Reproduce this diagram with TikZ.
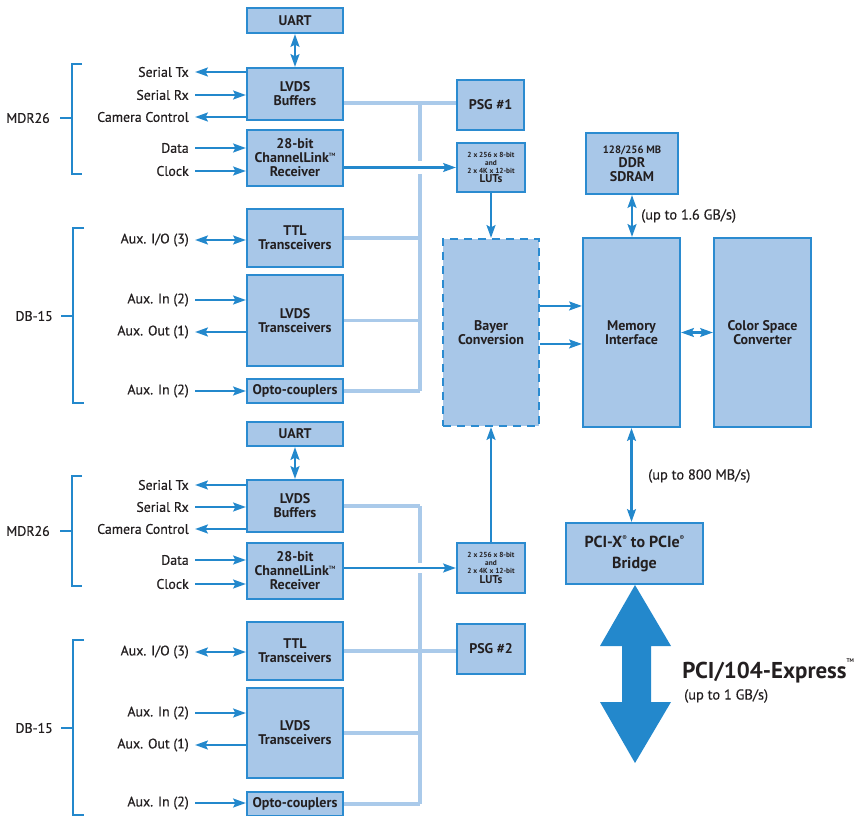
\documentclass[tikz,border=0pt]{standalone}
\usepackage{fontspec}
\setmainfont{PT Sans}
\newfontfamily\lblfont{PT Sans}[FakeBold=0.45]
\usetikzlibrary{arrows.meta}
\definecolor{boxfill}{HTML}{A8C7E8}
\definecolor{boxline}{HTML}{2B8BD0}
\definecolor{arrc}{HTML}{2388CC}
\definecolor{busc}{HTML}{AACAEA}
\definecolor{txt}{HTML}{231F20}
\newcommand{\mytm}{\raisebox{0.95ex}{\fontsize{3.5}{3.5}\selectfont TM}}
\newcommand{\myreg}{\raisebox{0.9ex}{\fontsize{5}{5}\selectfont ®}}
\tikzset{
  myhead/.tip={Stealth[length=9.5pt,width=6.5pt,inset=1.5pt]},
  box/.style={draw=boxline, fill=boxfill, line width=1.5pt, inner sep=0pt, align=center, text=txt,
    font=\fontsize{10.5}{10.5}\selectfont\bfseries},
  lbl/.style={anchor=east, text=txt, inner sep=0pt, font=\lblfont\fontsize{10.4}{11}\selectfont},
  rate/.style={anchor=west, text=txt, inner sep=0pt, font=\lblfont\fontsize{10.8}{11}\selectfont},
  arr/.style={draw=arrc, line width=2pt, -myhead},
  darr/.style={draw=arrc, line width=2pt, myhead-myhead},
  bus/.style={draw=busc, line width=2.3pt},
  brk/.style={draw=arrc, line width=2.2pt},
  lutbox/.style={box, minimum width=51pt, font=\fontsize{5.5}{6}\selectfont\bfseries}
}
\begin{document}
\begin{tikzpicture}[x=0.75pt,y=-0.75pt]
\useasboundingbox (0,0) rectangle (856,816);

% ---------- top channel ----------
\node[box, minimum width=72pt, minimum height=18.75pt] (uart1) at (295,20.5) {UART};
\node[box, minimum width=72pt, minimum height=39pt] (lvdsb1) at (295,94) {LVDS\\Buffers};
\node[box, minimum width=72pt, minimum height=42pt] (cl1) at (295,158) {28-bit\\ChannelLink\mytm\\Receiver};
\node[box, minimum width=72pt, minimum height=43.5pt] (ttl1) at (295,238) {TTL\\Transceivers};
\node[box, minimum width=72pt, minimum height=68.25pt] (lvdst1) at (295,320.5) {LVDS\\Transceivers};
\node[box, minimum width=72pt, minimum height=18pt] (opto1) at (295,391) {Opto-couplers};
\node[box, minimum width=50.25pt, minimum height=37.5pt] (psg1) at (490.5,105) {PSG \#1};
\node[lutbox, minimum height=36.75pt] (lut1) at (491,167.5) {2 x 256 x 8-bit\\and\\2 x 4K x 12-bit\\{\fontsize{8.5}{8.5}\selectfont LUTs}};

% ---------- bottom channel ----------
\node[box, minimum width=72pt, minimum height=18pt] (uart2) at (295,434) {UART};
\node[box, minimum width=72pt, minimum height=39pt] (lvdsb2) at (295,506) {LVDS\\Buffers};
\node[box, minimum width=72pt, minimum height=42pt] (cl2) at (295,571) {28-bit\\ChannelLink\mytm\\Receiver};
\node[box, minimum width=72pt, minimum height=43.5pt] (ttl2) at (295,651) {TTL\\Transceivers};
\node[box, minimum width=72pt, minimum height=67.5pt] (lvdst2) at (295,733) {LVDS\\Transceivers};
\node[box, minimum width=72pt, minimum height=18pt] (opto2) at (295,804) {Opto-couplers};
\node[lutbox, minimum height=37.5pt] (lut2) at (491,568) {2 x 256 x 8-bit\\and\\2 x 4K x 12-bit\\{\fontsize{8.5}{8.5}\selectfont LUTs}};
\node[box, minimum width=51pt, minimum height=37.5pt] (psg2) at (491,649) {PSG \#2};

% ---------- processing ----------
\node[box, dash pattern=on 6pt off 4.5pt, minimum width=72pt, minimum height=140.25pt] (bayer) at (491,332.5) {Bayer\\Conversion};
\node[box, minimum width=69pt, minimum height=45.75pt] (ddr) at (632,163.5) {{\fontsize{8}{8}\selectfont 128/256 MB}\\DDR\\SDRAM};
\node[box, minimum width=72.75pt, minimum height=141.75pt] (mem) at (631.5,332.5) {Memory\\Interface};
\node[box, minimum width=72.75pt, minimum height=141.75pt] (csc) at (762.5,332.5) {Color Space\\Converter};
\node[box, minimum width=102.75pt, minimum height=45.75pt, font=\fontsize{12}{15.5}\selectfont\bfseries] (bridge) at (634.5,553.5) {PCI-X\myreg{} to PCIe\myreg\\Bridge};

% ---------- labels (top) ----------
\node[lbl] (lstx1) at (189,72) {Serial Tx};
\node[lbl] (lsrx1) at (189,95) {Serial Rx};
\node[lbl] (lcc1) at (189,117) {Camera Control};
\node[lbl] (ldat1) at (189,148) {Data};
\node[lbl] (lclk1) at (189,171) {Clock};
\node[lbl] (lio1) at (189,240) {Aux. I/O (3)};
\node[lbl] (lin1) at (189,300) {Aux. In (2)};
\node[lbl] (lout1) at (189,332) {Aux. Out (1)};
\node[lbl] (lop1) at (189,391) {Aux. In (2)};
% ---------- labels (bottom) ----------
\node[lbl] (lstx2) at (189,485) {Serial Tx};
\node[lbl] (lsrx2) at (189,507) {Serial Rx};
\node[lbl] (lcc2) at (189,529) {Camera Control};
\node[lbl] (ldat2) at (189,560) {Data};
\node[lbl] (lclk2) at (189,584) {Clock};
\node[lbl] (lio2) at (189,652) {Aux. I/O (3)};
\node[lbl] (lin2) at (189,713) {Aux. In (2)};
\node[lbl] (lout2) at (189,745) {Aux. Out (1)};
\node[lbl] (lop2) at (189,803) {Aux. In (2)};

% free ends
\foreach \n/\y in {stx1/72,srx1/95,cc1/117,dat1/148,clk1/171,io1/240,in1/300,out1/332,op1/391,
                   stx2/485,srx2/507,cc2/529,dat2/560,clk2/584,io2/652,in2/713,out2/745,op2/803}
  \coordinate (c\n) at (195,\y);

% ---------- signal arrows ----------
\draw[arr] (cstx1 -| lvdsb1.west) -- (cstx1);
\draw[arr] (csrx1) -- (csrx1 -| lvdsb1.west);
\draw[arr] (ccc1 -| lvdsb1.west) -- (ccc1);
\draw[arr] (cdat1) -- (cdat1 -| cl1.west);
\draw[arr] (cclk1) -- (cclk1 -| cl1.west);
\draw[darr] (cio1) -- (cio1 -| ttl1.west);
\draw[arr] (cin1) -- (cin1 -| lvdst1.west);
\draw[arr] (cout1 -| lvdst1.west) -- (cout1);
\draw[arr] (cop1) -- (cop1 -| opto1.west);

\draw[arr] (cstx2 -| lvdsb2.west) -- (cstx2);
\draw[arr] (csrx2) -- (csrx2 -| lvdsb2.west);
\draw[arr] (ccc2 -| lvdsb2.west) -- (ccc2);
\draw[arr] (cdat2) -- (cdat2 -| cl2.west);
\draw[arr] (cclk2) -- (cclk2 -| cl2.west);
\draw[darr] (cio2) -- (cio2 -| ttl2.west);
\draw[arr] (cin2) -- (cin2 -| lvdst2.west);
\draw[arr] (cout2 -| lvdst2.west) -- (cout2);
\draw[arr] (cop2) -- (cop2 -| opto2.west);

\draw[darr] (uart1.south) -- (lvdsb1.north);
\draw[darr] (uart2.south) -- (lvdsb2.north);
\draw[arr] (cl1.east |- lut1.west) -- (lut1.west);
\draw[arr] (cl2.east |- lut2.west) -- (lut2.west);
\draw[arr] (lut1.south) -- (lut1.south |- bayer.north);
\draw[arr] (lut2.north) -- (lut2.north |- bayer.south);
\draw[arr] ([yshift=19.9pt]bayer.east) coordinate (bm1) -- (bm1 -| mem.west);
\draw[arr] ([yshift=-8.6pt]bayer.east) coordinate (bm2) -- (bm2 -| mem.west);
\draw[darr] (mem.east) -- (csc.west);
\draw[darr] (ddr.south) -- (ddr.south |- mem.north);
\draw[darr] (mem.south) -- (mem.south |- bridge.north);

% ---------- bus lines ----------
\coordinate (b1top) at (420,103);
\coordinate (b1ga) at (420,161);
\coordinate (b1gb) at (420,174);
\coordinate (b1bot) at (420,391);
\draw[bus] (lvdsb1.east |- b1top) -- (b1top -| psg1.west);
\draw[bus] (b1top) -- (b1ga);
\draw[bus] (b1gb) -- (b1bot);
\draw[bus] (ttl1.east) -- (ttl1.east -| b1top);
\draw[bus] (lvdst1.east) -- (lvdst1.east -| b1top);
\draw[bus] (opto1.east) -- (opto1.east -| b1top);

\coordinate (b2top) at (420,506);
\coordinate (b2ga) at (420,563);
\coordinate (b2gb) at (420,573);
\coordinate (b2bot) at (420,804);
\draw[bus] (lvdsb2.east) -- (b2top);
\draw[bus] (b2top) -- (b2ga);
\draw[bus] (b2gb) -- (b2bot);
\draw[bus] (ttl2.east) -- (ttl2.east -| psg2.west);
\draw[bus] (lvdst2.east) -- (lvdst2.east -| b2top);
\draw[bus] (opto2.east) -- (b2bot);

% ---------- brackets ----------
\node[lbl] (mdr1) at (50,118) {MDR26};
\draw[brk] (82,64) -- (72,64) -- (72,174) -- (82,174);
\draw[brk] (60,118) -- (72,118);
\node[lbl] (db1) at (53,316) {DB-15};
\draw[brk] (84,228) -- (73,228) -- (73,403) -- (84,403);
\draw[brk] (61,316) -- (73,316);
\node[lbl] (mdr2) at (50,531) {MDR26};
\draw[brk] (82,476) -- (72,476) -- (72,586) -- (82,586);
\draw[brk] (60,531) -- (72,531);
\node[lbl] (db2) at (53,728) {DB-15};
\draw[brk] (84,640) -- (73,640) -- (73,815) -- (84,815);
\draw[brk] (61,728) -- (73,728);

% ---------- rates ----------
\node[rate] (r1) at (641,216) {(up to 1.6 GB/s)};
\node[rate] (r2) at (648,476) {(up to 800 MB/s)};

% ---------- PCI/104 big arrow ----------
\fill[arrc] (635,585) -- (671,646) -- (651,646) -- (651,702) -- (671,702) -- (635,763)
  -- (600,702) -- (622,702) -- (622,646) -- (600,646) -- cycle;
\node[anchor=west, inner sep=0pt, text=txt, font=\fontsize{17.2}{17.5}\selectfont\bfseries] (pci) at (682,671) {PCI/104-Express\raisebox{1.4ex}{\fontsize{4}{4}\selectfont TM}};
\node[rate] (r3) at (684,696) {(up to 1 GB/s)};
\end{tikzpicture}
\end{document}
